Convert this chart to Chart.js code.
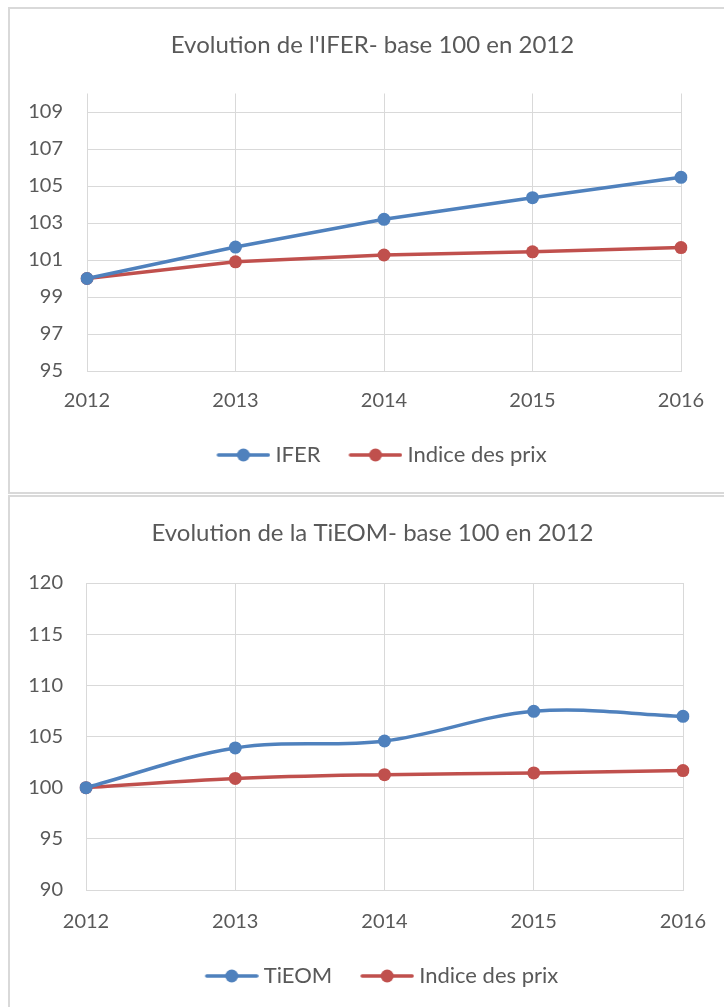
<!DOCTYPE html>
<html>
<head>
<meta charset="utf-8">
<title>Evolution IFER / TiEOM</title>
<script src="https://cdn.jsdelivr.net/npm/chart.js@4.4.0/dist/chart.umd.min.js"></script>
<style>
    html, body { margin: 0; padding: 0; background: #fff; overflow: hidden; }
    body { width: 724px; height: 1007px; position: relative; }
    .frame { position: absolute; left: 8px; width: 740px; box-sizing: border-box; border: 2px solid #d9d9d9; }
    .wrap { position: absolute; left: 9px; }
</style>
</head>
<body>
<div class="frame" style="top:7px;height:487px;"></div>
<div class="frame" style="top:495px;height:530px;"></div>
<div class="wrap" style="top:8px;width:727px;height:485px;"><canvas id="chart-ifer"></canvas></div>
<div class="wrap" style="top:496px;width:727px;height:518px;"><canvas id="chart-tieom"></canvas></div>
<script>
const years = ['2012', '2013', '2014', '2015', '2016'];
const ifer = [100, 101.7, 103.2, 104.37, 105.47];
const indicePrix = [100, 100.9, 101.27, 101.44, 101.67];
const tieom = [100, 103.88, 104.56, 107.46, 106.97];
const yTicksIfer = [95, 97, 99, 101, 103, 105, 107, 109];
const yTicksTieom = [90, 95, 100, 105, 110, 115, 120];

const BLUE = '#4f81bd';
const RED = '#c0504d';
const TEXT = '#595959';
const GRID = '#d9d9d9';
const FONT = 'Lato, "Open Sans", sans-serif';

// legend symbol: short line with a dot, like Excel
const legendSymbol = (color) => {
    const c = document.createElement('canvas');
    c.width = 78; c.height = 16;
    const g = c.getContext('2d');
    g.strokeStyle = color; g.lineWidth = 3.5; g.lineCap = 'round';
    g.beginPath(); g.moveTo(26, 8); g.lineTo(76, 8); g.stroke();
    g.fillStyle = color;
    g.beginPath(); g.arc(51, 8, 6.5, 0, Math.PI * 2); g.fill();
    return c;
};

const makeChart = (id, cfg) => {
    const series = cfg.series;
    const symbols = series.map(s => legendSymbol(s.color));
    return new Chart(document.getElementById(id), {
        type: 'line',
        data: {
            labels: years,
            datasets: series.map(s => ({
                label: s.label,
                data: s.data,
                borderColor: s.color,
                backgroundColor: s.color,
                borderWidth: 3.5,
                pointRadius: 6.5,
                pointHoverRadius: 6.5,
                pointBorderWidth: 0,
                tension: cfg.tension
            }))
        },
        options: {
            responsive: true,
            maintainAspectRatio: false,
            animation: false,
            layout: { padding: { top: 0, left: 0, right: 0, bottom: 17 } },
            plugins: {
                tooltip: { enabled: false },
                title: {
                    display: true,
                    text: cfg.title,
                    color: TEXT,
                    font: { family: FONT, size: 24, weight: 'normal', lineHeight: 1.2 },
                    padding: { top: 22.6, bottom: cfg.titleGap }
                },
                legend: {
                    position: 'bottom',
                    labels: {
                        color: TEXT,
                        font: { family: FONT, size: 22 },
                        usePointStyle: true,
                        pointStyleWidth: 66,
                        padding: 10,
                        generateLabels: (chart) => {
                            const items = Chart.defaults.plugins.legend.labels.generateLabels(chart);
                            items.forEach((it, i) => { it.pointStyle = symbols[i]; });
                            return items;
                        }
                    }
                }
            },
            scales: {
                x: {
                    offset: false,
                    grid: { color: GRID, lineWidth: 1, drawTicks: false },
                    border: { color: GRID, width: 1 },
                    ticks: { color: TEXT, font: { family: FONT, size: 20 }, padding: cfg.xPad, maxRotation: 0 },
                    afterFit: (axis) => { axis.height = cfg.xHeight; }
                },
                y: {
                    min: cfg.yMin,
                    max: cfg.yMax,
                    grid: { color: GRID, lineWidth: 1, drawTicks: false },
                    border: { display: false },
                    ticks: { color: TEXT, font: { family: FONT, size: 20 }, padding: cfg.yPad },
                    afterBuildTicks: (axis) => { axis.ticks = cfg.yTicks.map(v => ({ value: v })); },
                    afterFit: (axis) => { axis.width = cfg.yWidth; }
                },
                // empty right axis, only keeps space so title and legend stay centred on the frame
                spacer: {
                    position: 'right',
                    grid: { display: false },
                    border: { display: false },
                    ticks: { display: false },
                    afterFit: (axis) => { axis.width = cfg.padRight; }
                }
            }
        }
    });
};

document.addEventListener('DOMContentLoaded', () => {
    makeChart('chart-ifer', {
        title: "Evolution de l'IFER- base 100 en 2012",
        series: [
            { label: 'IFER', data: ifer, color: BLUE },
            { label: 'Indice des prix', data: indicePrix, color: RED }
        ],
        tension: 0,
        yMin: 95, yMax: 110, yTicks: yTicksIfer,
        titleGap: 34.1, xHeight: 63, xPad: 18, yWidth: 78, yPad: 24, padRight: 55
    });

    makeChart('chart-tieom', {
        title: 'Evolution de la TiEOM- base 100 en 2012',
        series: [
            { label: 'TiEOM', data: tieom, color: BLUE },
            { label: 'Indice des prix', data: indicePrix, color: RED }
        ],
        tension: 0.35,
        yMin: 90, yMax: 120, yTicks: yTicksTieom,
        titleGap: 35.6, xHeight: 65, xPad: 20, yWidth: 77, yPad: 23, padRight: 53
    });
});
</script>
</body>
</html>
